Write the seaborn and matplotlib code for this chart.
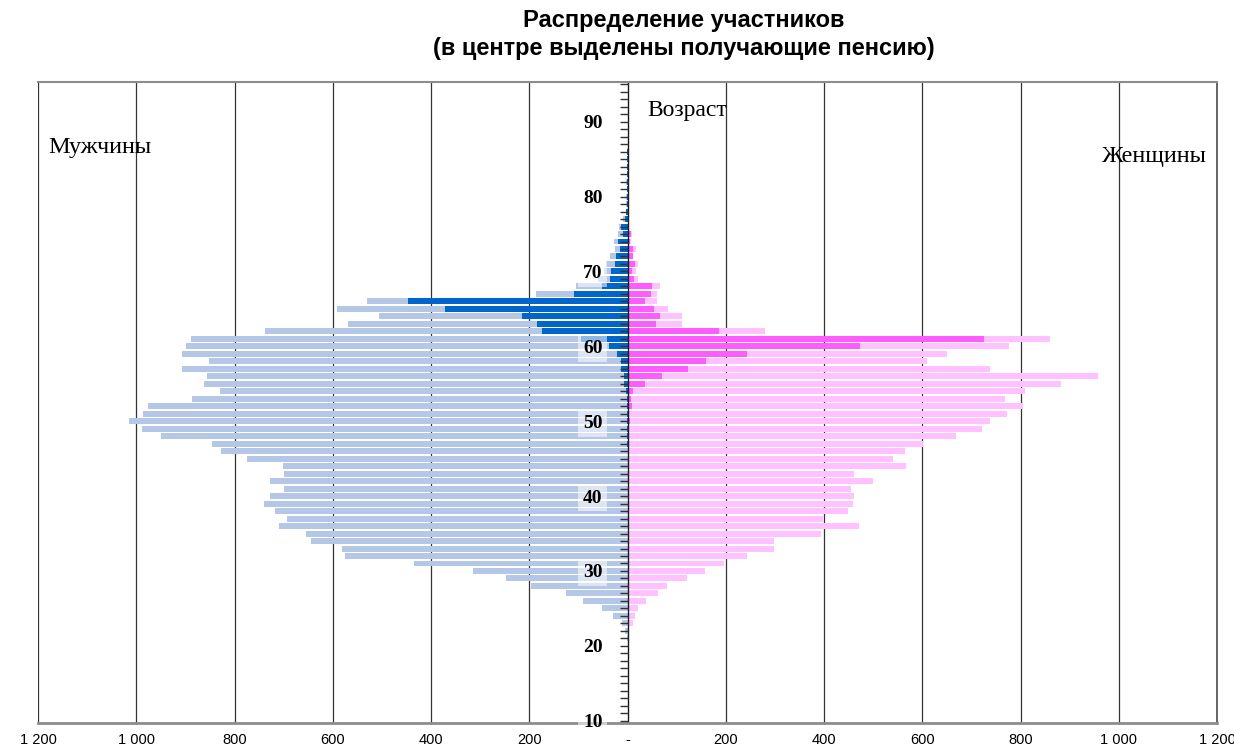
import numpy as np
import pandas as pd
import matplotlib
matplotlib.use("Agg")
import matplotlib.pyplot as plt
from matplotlib.ticker import FuncFormatter, MultipleLocator
import seaborn as sns

# возраст участников
ages = list(range(21, 89))

# мужчины: всего / получают пенсию
men_total = [2, 5, 11, 30, 51, 90, 125, 197, 247, 315,
             434, 576, 582, 644, 654, 710, 693, 717, 740, 728,
             699, 728, 700, 702, 774, 827, 845, 950, 988, 1014,
             986, 977, 887, 830, 862, 856, 907, 852, 907, 899,
             889, 737, 569, 506, 591, 530, 187, 105, 60, 48,
             43, 35, 25, 27, 19, 17, 9, 4, 3, 3,
             2, 3, 2, 2, 1, 1, 0, 0]
men_pension = [0] * 20 + [
             0, 0, 0, 0, 0, 0, 1, 1, 2, 2,
             1, 1, 2, 3, 7, 7, 13, 13, 22, 37,
             95, 175, 185, 215, 372, 447, 108, 52, 36, 33,
             26, 24, 15, 19, 9, 13, 5, 3, 2, 2,
             2, 2, 2, 1, 1, 1, 0, 0]

# женщины: всего / получают пенсию
women_total = [2, 3, 11, 16, 22, 37, 62, 81, 121, 158,
               197, 244, 299, 299, 393, 471, 398, 449, 459, 461,
               454, 500, 461, 567, 540, 564, 602, 669, 721, 738,
               772, 806, 769, 809, 882, 957, 738, 610, 650, 777,
               861, 279, 111, 111, 83, 60, 60, 66, 21, 17,
               22, 12, 17, 7, 10, 3, 3, 2, 1, 2,
               1, 1, 1, 0, 0, 0, 0, 0]
women_pension = [0] * 20 + [
               0, 0, 0, 0, 0, 3, 0, 0, 3, 5,
               4, 9, 7, 11, 36, 71, 124, 159, 243, 474,
               725, 186, 57, 66, 54, 36, 47, 49, 14, 9,
               16, 12, 12, 5, 7, 3, 3, 2, 1, 2,
               1, 1, 1, 0, 0, 0, 0, 0]

x_ticks = list(range(-1200, 1201, 200))

df = pd.DataFrame({
    "age": ages,
    "men_total": men_total,
    "men_pension": men_pension,
    "women_total": women_total,
    "women_pension": women_pension,
})

sns.set_theme(style="white")
plt.rcParams["font.family"] = ["Liberation Serif", "DejaVu Serif"]
plt.rcParams["text.color"] = "black"
plt.rcParams["xtick.labelcolor"] = "black"
plt.rcParams["ytick.labelcolor"] = "black"

fig = plt.figure(figsize=(12.34, 7.51), dpi=100)
ax = fig.add_axes([38 / 1234, 28 / 751, 1179 / 1234, 641 / 751])

layers = [
    (-df["men_total"], "#b4c7e7"),
    (-df["men_pension"], "#0066cc"),
    (df["women_total"], "#ffc1ff"),
    (df["women_pension"], "#ff5cff"),
]
for vals, col in layers:
    sns.barplot(x=vals, y=df["age"], orient="h", native_scale=True,
                color=col, saturation=1, width=0.8, errorbar=None,
                linewidth=0, ax=ax)

# вертикальная сетка под столбцами
for xv in x_ticks:
    if xv != 0:
        ax.axvline(xv, color="#333333", lw=0.9, zorder=0.5)

ax.set_xlim(-1200, 1200)
ax.set_ylim(9.7, 95.3)
ax.set_axisbelow(False)
ax.set_xlabel("")
ax.set_ylabel("")

# центральная ось возраста
ax.spines["left"].set_position(("data", 0))
ax.spines["left"].set_color("#1a1a1a")
ax.spines["left"].set_linewidth(1.0)
ax.spines["right"].set_color("#555555")
ax.spines["top"].set_color("#8c8c8c")
ax.spines["top"].set_linewidth(1.5)
ax.spines["bottom"].set_color("#8c8c8c")
ax.spines["bottom"].set_linewidth(2)

ax.yaxis.set_major_locator(MultipleLocator(10))
ax.yaxis.set_minor_locator(MultipleLocator(1))
ax.tick_params(axis="y", which="both", direction="out", length=6,
               width=1, color="#333333", left=True)
ax.tick_params(axis="y", which="major", pad=12, labelsize=14)
for t in ax.yaxis.get_major_ticks():
    t.label1.set_fontweight("bold")
    t.label1.set_bbox(dict(boxstyle="square,pad=0.25", fc="white",
                           ec="none", alpha=0.55))

ax.set_xticks(x_ticks)
ax.xaxis.set_major_formatter(FuncFormatter(
    lambda v, pos: "-" if v == 0 else f"{abs(int(v)):,}".replace(",", " ")))
ax.tick_params(axis="x", length=0, pad=7, labelsize=10.5)
for lbl in ax.get_xticklabels():
    lbl.set_family(["Liberation Sans", "DejaVu Sans"])

ax.text(0.009, 0.898, "Мужчины", transform=ax.transAxes, fontsize=17.5,
        ha="left", va="center")
ax.text(0.9915, 0.884, "Женщины", transform=ax.transAxes, fontsize=17.5,
        ha="right", va="center")
ax.text(0.517, 0.955, "Возраст", transform=ax.transAxes, fontsize=17,
        ha="left", va="center")

fig.text(0.554, 0.973, "Распределение участников", ha="center", va="center",
         fontsize=17, fontweight="bold", family=["Liberation Sans", "DejaVu Sans"])
fig.text(0.554, 0.935, "(в центре выделены получающие пенсию)", ha="center",
         va="center", fontsize=17, fontweight="bold",
         family=["Liberation Sans", "DejaVu Sans"])

fig.savefig("out.png", dpi=100)
